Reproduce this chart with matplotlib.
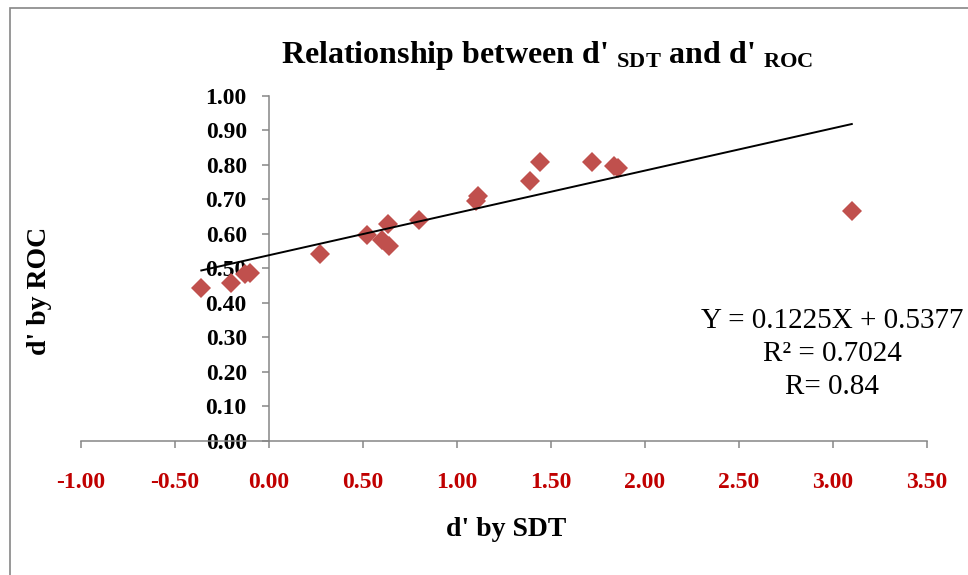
import matplotlib.pyplot as plt
import numpy as np
from matplotlib.patches import Rectangle

# values
sdt_x = [-0.36, -0.20, -0.13, -0.10, 0.27, 0.52, 0.60, 0.635, 0.64, 0.80,
         1.10, 1.11, 1.39, 1.44, 1.72, 1.835, 1.855, 3.10]
roc_y = [0.443, 0.457, 0.484, 0.486, 0.541, 0.597, 0.583, 0.629, 0.565, 0.639,
         0.694, 0.710, 0.752, 0.807, 0.807, 0.796, 0.790, 0.667]
slope = 0.1225
intercept = 0.5377
r_squared = 0.7024
r_value = 0.84
x_ticks = [-1.0, -0.5, 0.0, 0.5, 1.0, 1.5, 2.0, 2.5, 3.0, 3.5]
y_ticks = [0.0, 0.1, 0.2, 0.3, 0.4, 0.5, 0.6, 0.7, 0.8, 0.9, 1.0]

serif = "Liberation Serif"
plt.rcParams["font.family"] = serif
plt.rcParams["mathtext.fontset"] = "custom"
plt.rcParams["mathtext.rm"] = serif
plt.rcParams["mathtext.bf"] = serif + ":bold"

axis_gray = "#868686"
marker_red = "#C0504D"
tick_red = "#C00000"

fig = plt.figure(figsize=(9.68, 5.75), dpi=100)
ax = fig.add_axes([81 / 968, 1 - 441 / 575, 846 / 968, 345.5 / 575])

ax.plot(sdt_x, roc_y, linestyle="none", marker="D", markersize=10.5,
        color=marker_red, markeredgewidth=0, zorder=3)

# linear trendline over the data range
line_x = np.array([min(sdt_x), max(sdt_x)])
ax.plot(line_x, slope * line_x + intercept, color="black", lw=1.4, zorder=4)

ax.set_xlim(-1.0, 3.5)
ax.set_ylim(0.0, 1.0)
ax.set_xticks(x_ticks)
ax.set_yticks(y_ticks)
ax.set_xticklabels([f"{v:.2f}" for v in x_ticks])
ax.set_yticklabels([f"{v:.2f}" for v in y_ticks])

for side in ["top", "right"]:
    ax.spines[side].set_visible(False)
ax.spines["left"].set_position(("data", 0))
ax.spines["left"].set_color(axis_gray)
ax.spines["bottom"].set_color(axis_gray)
ax.spines["left"].set_linewidth(1.1)
ax.spines["bottom"].set_linewidth(1.1)

ax.tick_params(axis="x", direction="out", length=5, width=1.1, color=axis_gray,
               pad=17, labelsize=17, labelcolor=tick_red)
ax.tick_params(axis="y", direction="out", length=5, width=1.1, color=axis_gray,
               pad=11, labelsize=17, labelcolor="black")
for lab in ax.get_xticklabels() + ax.get_yticklabels():
    lab.set_fontweight("bold")

fig.text(547 / 968, 1 - 56 / 575,
         r"Relationship between d' $\mathbf{_{SDT}}$ and d' $\mathbf{_{ROC}}$",
         ha="center", va="center", fontsize=23, fontweight="bold")
fig.text(40 / 968, 1 - 291 / 575, "d' by ROC", rotation=90, ha="center",
         va="center", fontsize=20, fontweight="bold")
fig.text(506 / 968, 1 - 530 / 575, "d' by SDT", ha="center", va="center",
         fontsize=20, fontweight="bold")

eq_lines = [f"Y = {slope}X + {intercept}", f"R² = {r_squared}", f"R= {r_value}"]
for i, txt in enumerate(eq_lines):
    fig.text(832 / 968, 1 - (321 + 33 * i) / 575, txt, ha="center",
             va="center", fontsize=21)

# chart area border
fig.patches.append(Rectangle((10 / 968, -0.02), 1.0, 1 - 8 / 575 + 0.02,
                             transform=fig.transFigure, fill=False,
                             edgecolor=axis_gray, lw=1.2))

fig.savefig("out.png", dpi=100)
